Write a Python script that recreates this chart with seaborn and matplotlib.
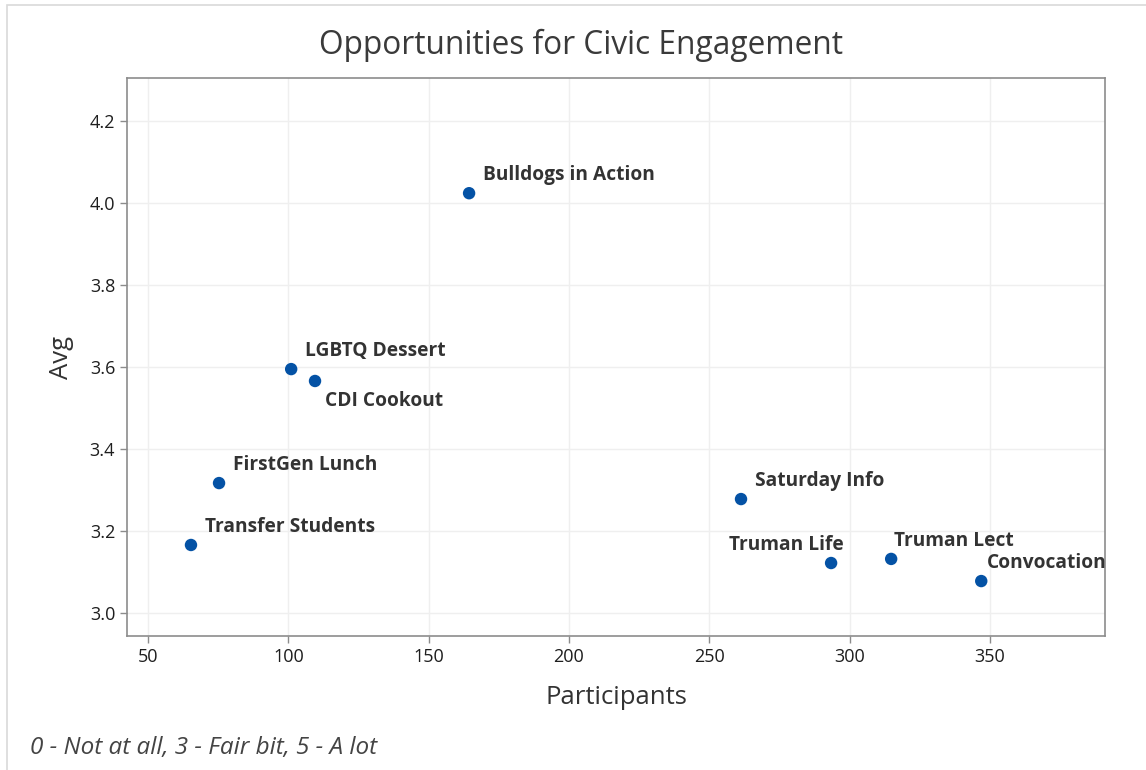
import matplotlib
matplotlib.use("Agg")
import matplotlib.pyplot as plt
import seaborn as sns
import pandas as pd
from matplotlib.patches import Rectangle

# Event data
events = ["Bulldogs in Action", "LGBTQ Dessert", "CDI Cookout", "FirstGen Lunch",
          "Transfer Students", "Saturday Info", "Truman Life", "Truman Lect", "Convocation"]
participants = [164.4, 101.0, 109.5, 75.3, 65.3, 261.3, 293.4, 314.8, 346.9]
avg_scores = [4.024, 3.595, 3.566, 3.317, 3.166, 3.278, 3.122, 3.132, 3.078]

x_ticks = [50, 100, 150, 200, 250, 300, 350]
y_ticks = [3.0, 3.2, 3.4, 3.6, 3.8, 4.0, 4.2]

# label placement (offset in points, alignment) per event
label_offsets = {
    "CDI Cookout": ((7, -7), "left", "top"),
    "Truman Life": ((9, 6), "right", "bottom"),
    "Truman Lect": ((2, 6), "left", "bottom"),
    "Convocation": ((4, 6), "left", "bottom"),
}

sns.set_theme(style="white")
plt.rcParams["font.family"] = ["Open Sans", "DejaVu Sans"]

df = pd.DataFrame({"Event": events, "Participants": participants, "Avg": avg_scores})

fig = plt.figure(figsize=(11.46, 7.7), dpi=100)
ax = fig.add_axes([127 / 1146, 1 - 636 / 770, (1105 - 127) / 1146, (636 - 78) / 770])

sns.scatterplot(data=df, x="Participants", y="Avg", ax=ax, color="#0452a5",
                s=80, edgecolor="none", zorder=3)

for ev, px, py in zip(events, participants, avg_scores):
    off, ha, va = label_offsets.get(ev, ((10, 6), "left", "bottom"))
    ax.annotate(ev, (px, py), xytext=off, textcoords="offset points",
                ha=ha, va=va, fontsize=13.8, fontweight="bold", color="#333333")

ax.set_xlim(42.5, 391)
ax.set_ylim(2.944, 4.305)
ax.set_xticks(x_ticks)
ax.set_yticks(y_ticks)
ax.set_yticklabels([f"{v:.1f}" for v in y_ticks])
ax.grid(True, color="#efefef", linewidth=1)
ax.set_axisbelow(True)
for sp in ax.spines.values():
    sp.set_color("#8c8c8c")
    sp.set_linewidth(1.2)
ax.tick_params(axis="both", direction="out", length=5, width=1, color="#8c8c8c",
               labelsize=13, labelcolor="#1e1e1e", left=True, bottom=True)

ax.set_xlabel("Participants", fontsize=18.5, color="#333333", labelpad=14)
ax.set_ylabel("Avg", fontsize=18.5, color="#333333", labelpad=11)

fig.text(581 / 1146, 1 - 45 / 770, "Opportunities for Civic Engagement",
         ha="center", va="center", fontsize=22.8, color="#3a3a3a")
fig.text(30 / 1146, 1 - 748 / 770, "0 - Not at all, 3 - Fair bit, 5 - A lot",
         ha="left", va="center", fontsize=17.5, style="italic", color="#444444")

# light frame around the whole panel
fig.patches.append(Rectangle((7 / 1146, -0.01), 1.1, 1 - 5 / 770 + 0.01,
                             transform=fig.transFigure, fill=False,
                             edgecolor="#d9d9d9", linewidth=1.2))

fig.savefig("out.png", dpi=100)
